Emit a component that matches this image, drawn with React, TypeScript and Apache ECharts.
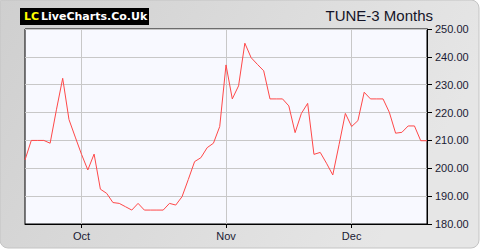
import React, { useEffect, useRef } from "react";
import * as echarts from "echarts";

const prices: number[] = [
  203, 210, 210, 210, 209, 221, 232.3, 217.5, 211.2, 205, 199.4, 205.1, 192.5, 191,
  187.7, 187.4, 186.2, 185, 187.4, 185, 185, 185, 185, 187.4, 186.8, 189.8, 196,
  202.4, 203.8, 207.4, 209, 215, 237.1, 224.9, 229.6, 244.9, 239.7, 237.3, 235,
  224.9, 224.9, 224.9, 222.4, 212.8, 219.7, 223.3, 205, 205.7, 201.8, 197.6, 208.5,
  219.7, 215, 217.1, 227.3, 224.9, 224.9, 224.9, 220.1, 212.6, 212.9, 215.2, 215.2,
  209.9, 209.9,
];
const days: string[] = prices.map((_, i) => `d${i}`);
const monthLabels: string[] = ["Oct", "Nov", "Dec"];
const monthStartIndex: number[] = [9, 32, 52];
const yMin = 180;
const yMax = 250;
const yStep = 10;
const title = "TUNE-3 Months";

export default function App() {
  const ref = useRef<HTMLDivElement>(null);
  useEffect(() => {
    if (!ref.current) return;
    const chart = echarts.init(ref.current, undefined, { renderer: "svg" });
    const isMonth = (i: number) => monthStartIndex.includes(i);
    chart.setOption({
      animation: false,
      graphic: [
        {
          type: "rect",
          z: -10,
          shape: { x: 0, y: 0, width: 479, height: 248, r: [2, 8, 8, 8] },
          style: {
            fill: new echarts.graphic.LinearGradient(0, 0, 1, 0.3, [
              { offset: 0, color: "#cfcfcf" },
              { offset: 1, color: "#e6e6e6" },
            ]),
            stroke: "#c4c4c4",
            lineWidth: 1,
          },
        },
        {
          type: "rect",
          shape: { x: 20, y: 8, width: 129, height: 17 },
          style: { fill: "#000000" },
        },
        {
          type: "text",
          x: 24,
          y: 16.5,
          style: {
            text: "LC",
            fill: "#ffff00",
            font: "bold 11px 'DejaVu Sans'",
            verticalAlign: "middle",
          },
        },
        {
          type: "text",
          x: 41,
          y: 16.5,
          style: {
            text: "LiveCharts.Co.Uk",
            fill: "#ffffff",
            font: "bold 11px 'DejaVu Sans'",
            verticalAlign: "middle",
          },
        },
        {
          type: "text",
          x: 433,
          y: 15.5,
          style: {
            text: title,
            fill: "#141428",
            font: "15px 'Liberation Sans', Arial, sans-serif",
            align: "right",
            verticalAlign: "middle",
          },
        },
      ],
      grid: {
        left: 25,
        top: 29,
        right: 53,
        bottom: 26,
        show: true,
        backgroundColor: "#f8f9ff",
        borderColor: "#000000",
        borderWidth: 1,
      },
      xAxis: {
        type: "category",
        data: days,
        boundaryGap: false,
        axisLine: { show: true, lineStyle: { color: "#000000", width: 1 } },
        axisTick: {
          show: true,
          interval: (i: number) => isMonth(i),
          length: 4,
          lineStyle: { color: "#000000" },
        },
        axisLabel: {
          interval: (i: number) => isMonth(i),
          formatter: (_v: string, i: number) => {
            const k = monthStartIndex.indexOf(i);
            return k >= 0 ? monthLabels[k] : "";
          },
          color: "#1a1a33",
          fontSize: 11,
          fontFamily: "'Liberation Sans', Arial, sans-serif",
          margin: 6,
        },
        splitLine: {
          show: true,
          interval: (i: number) => isMonth(i),
          lineStyle: { color: "#c8c8c8", width: 1 },
        },
      },
      yAxis: {
        type: "value",
        position: "right",
        min: yMin,
        max: yMax,
        interval: yStep,
        axisLine: { show: true, lineStyle: { color: "#000000", width: 1 } },
        axisTick: { show: true, length: 5, lineStyle: { color: "#000000" } },
        axisLabel: {
          formatter: (v: number) => v.toFixed(2),
          color: "#1a1a33",
          fontSize: 11,
          fontFamily: "'Liberation Sans', Arial, sans-serif",
          margin: 8,
        },
        splitLine: { show: true, lineStyle: { color: "#c8c8c8", width: 1 } },
      },
      series: [
        {
          type: "line",
          data: prices,
          showSymbol: false,
          symbol: "none",
          lineStyle: { color: "#ff4848", width: 1 },
          z: 3,
        },
      ],
    });
    return () => chart.dispose();
  }, []);
  return (
    <div
      ref={ref}
      style={{ position: "fixed", left: 0, top: 0, width: 480, height: 250, background: "#ffffff" }}
    />
  );
}
